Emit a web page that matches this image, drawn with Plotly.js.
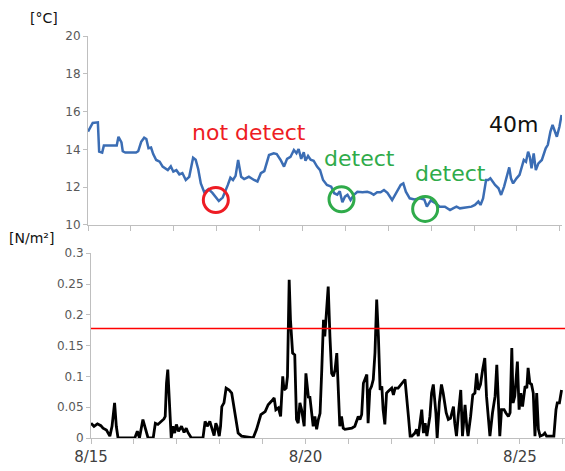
<!DOCTYPE html>
<html>
<head>
<meta charset="utf-8">
<script src="https://cdn.plot.ly/plotly-3.0.1.min.js"></script>
<style>html,body{margin:0;padding:0;background:#fff;}#chart{width:565px;height:471px;}</style>
</head>
<body>
<div id="chart"></div>
<script>
// Days since 8/15 00:00
const tempDays = [0,0.11,0.23,0.26,0.33,0.37,0.54,0.67,0.71,0.78,0.81,0.87,1.12,1.17,1.24,1.31,1.36,1.41,1.47,1.52,1.59,1.67,1.74,1.86,1.93,1.99,2.06,2.13,2.2,2.28,2.36,2.45,2.51,2.57,2.63,2.71,2.81,2.9,3.05,3.14,3.26,3.32,3.38,3.44,3.5,3.57,3.64,3.75,3.87,3.95,4.03,4.11,4.22,4.33,4.4,4.49,4.57,4.64,4.72,4.8,4.86,4.91,4.97,5.03,5.07,5.13,5.19,5.26,5.34,5.41,5.48,5.57,5.67,5.74,5.81,5.87,5.93,5.99,6.05,6.12,6.2,6.28,6.4,6.51,6.59,6.66,6.74,6.82,6.9,6.98,7.09,7.19,7.29,7.35,7.41,7.5,7.61,7.73,7.84,7.9,7.99,8.1,8.2,8.32,8.44,8.51,8.59,8.67,8.82,8.94,9.02,9.1,9.15,9.21,9.28,9.33,9.38,9.49,9.57,9.63,9.7,9.77,9.82,9.86,9.91,9.99,10.06,10.16,10.21,10.26,10.3,10.34,10.39,10.44,10.5,10.58,10.67,10.72,10.78,10.83,10.88,10.93,10.99,11.04];
const tempValues = [14.94,15.4,15.43,13.88,13.83,14.2,14.2,14.2,14.67,14.37,13.9,13.83,13.83,13.9,14.4,14.62,14.55,14.06,14.1,13.75,13.44,13.35,13.09,12.91,13.1,12.82,12.9,12.68,12.75,12.38,12.55,13.56,13.45,12.95,12.2,11.73,11.9,11.7,11.27,11.45,12.12,12.5,12.38,12.6,13.44,12.55,12.43,12.55,12.38,12.3,12.74,12.85,13.7,13.79,13.75,13.44,13.09,13.5,13.6,13.97,13.8,14.02,13.5,13.85,13.4,13.65,13.45,13.4,13.09,12.9,12.38,12.12,12.03,11.68,11.6,11.78,11.2,11.5,11.6,11.32,11.6,11.76,11.73,11.76,11.7,11.6,11.73,11.73,11.85,11.7,11.32,11.7,12.12,12.2,11.76,11.41,11.35,11.41,11.35,10.97,11.3,11.15,10.97,10.97,10.79,10.88,10.97,10.88,10.92,10.97,11.06,11.24,11.06,11.41,12.38,12.38,12.47,12.12,11.94,11.59,12.03,12.65,13.05,12.47,12.2,12.47,12.65,13.44,13.35,13.88,13.6,13.0,13.79,12.9,13.26,13.44,14.06,14.24,14.94,15.29,14.94,14.67,15.2,15.82];

const stressDays = [0,0.07,0.15,0.23,0.28,0.36,0.44,0.49,0.55,0.59,0.63,1.02,1.08,1.13,1.21,1.27,1.33,1.45,1.5,1.56,1.64,1.7,1.73,1.76,1.79,1.83,1.87,1.91,1.95,1.99,2.04,2.11,2.17,2.22,2.26,2.34,2.61,2.66,2.71,2.77,2.81,2.87,2.91,2.94,2.99,3.02,3.05,3.1,3.15,3.22,3.28,3.36,3.43,3.51,3.78,3.86,3.96,4.06,4.13,4.21,4.27,4.31,4.37,4.42,4.47,4.5,4.55,4.58,4.62,4.65,4.7,4.75,4.79,4.83,4.87,4.91,4.97,5.01,5.07,5.1,5.14,5.18,5.22,5.26,5.3,5.34,5.38,5.42,5.45,5.49,5.53,5.57,5.61,5.65,5.69,5.73,5.77,5.8,5.84,5.88,5.92,6.0,6.08,6.15,6.23,6.27,6.31,6.35,6.39,6.43,6.46,6.5,6.54,6.58,6.62,6.66,6.7,6.74,6.78,6.81,6.85,6.89,6.93,7.01,7.05,7.09,7.16,7.24,7.32,7.4,7.44,7.48,7.55,7.59,7.63,7.71,7.75,7.79,7.83,7.9,7.94,7.98,8.04,8.07,8.12,8.17,8.21,8.28,8.33,8.38,8.45,8.48,8.52,8.56,8.62,8.66,8.72,8.76,8.79,8.85,8.9,8.95,8.99,9.03,9.08,9.13,9.18,9.22,9.26,9.3,9.36,9.42,9.46,9.49,9.53,9.57,9.63,9.67,9.73,9.77,9.81,9.84,9.88,9.94,9.98,10.02,10.06,10.12,10.16,10.19,10.23,10.27,10.31,10.35,10.39,10.43,10.47,10.54,10.58,10.62,10.79,10.84,10.87,10.92,10.97];
const stressValues = [0.024,0.019,0.023,0.020,0.016,0.013,0.003,0.019,0.057,0.019,0,0,0.011,0,0.03,0.014,0,0,0.024,0.022,0.027,0.031,0.035,0.089,0.111,0.063,0,0.019,0.008,0.022,0.011,0.019,0.009,0.016,0.009,0,0,0.027,0.019,0.027,0.019,0.004,0.024,0.019,0.003,0.019,0.051,0.057,0.081,0.078,0.073,0.035,0.008,0.003,0,0.014,0.038,0.043,0.054,0.06,0.065,0.046,0.049,0.035,0.1,0.078,0.081,0.1,0.257,0.192,0.138,0.135,0.03,0.024,0.057,0.046,0.019,0.105,0.065,0.068,0.046,0.019,0.035,0.014,0.03,0.04,0.111,0.192,0.165,0.208,0.246,0.165,0.105,0.1,0.111,0.138,0.078,0.019,0.035,0.016,0.014,0.015,0.016,0.019,0.035,0.03,0.038,0.089,0.097,0.103,0.024,0.078,0.084,0.095,0.138,0.225,0.165,0.078,0.084,0.046,0.022,0.073,0.076,0.081,0.07,0.081,0.081,0.089,0.095,0.035,0.003,0.003,0.008,0.014,0.003,0.046,0.008,0.024,0.003,0.035,0.073,0.087,0.041,0,0.057,0.087,0.073,0.041,0.03,0.032,0.051,0.024,0.003,0.035,0.078,0.003,0.054,0.019,0.003,0.035,0.07,0.073,0.105,0.078,0.087,0.111,0.13,0.068,0.035,0.003,0.041,0.068,0.119,0.068,0.003,0.046,0.046,0.041,0.035,0.041,0.146,0.057,0.068,0.124,0.046,0.073,0.051,0.084,0.081,0.114,0.089,0.087,0.073,0.003,0.073,0.014,0.003,0.005,0.008,0.003,0.003,0.046,0.057,0.057,0.078];

const stressThreshold = 0.178;

const tickDays = [0,1,2,3,4,5,6,7,8,9,10,11];
const tickLabels = ['8/15','','','','','8/20','','','','','8/25',''];
const tempTicks = [10,12,14,16,18,20];
const stressTicks = [0,0.05,0.1,0.15,0.2,0.25,0.3];
const stressTickLabels = ['0','0.05','0.1','0.15','0.2','0.25','0.3'];

const notDetectDays = [2.98];
const notDetectTemps = [11.32];
const detectDays = [5.91, 7.86];
const detectTemps = [11.36, 10.85];

const labelTexts = ['not detect','detect','detect','40m'];
const labelDays = [3.75, 6.32, 8.46, 9.91];
const labelTemps = [14.87, 13.54, 12.7, 15.34];
const labelColors = ['#ee1c24','#2fab4a','#2fab4a','#111111'];

const FONT = 'DejaVu Sans, Verdana, sans-serif';
const AX = '#bfbfbf';

const traces = [
  {x: tempDays, y: tempValues, xaxis: 'x2', yaxis: 'y2', type: 'scatter', mode: 'lines',
   line: {color: '#3b6db4', width: 2.5}},
  {x: stressDays, y: stressValues, xaxis: 'x', yaxis: 'y', type: 'scatter', mode: 'lines',
   line: {color: '#000000', width: 2.8}},
  {x: notDetectDays, y: notDetectTemps, xaxis: 'x2', yaxis: 'y2', type: 'scatter', mode: 'markers',
   marker: {symbol: 'circle-open', size: 25, color: '#ee1c24', line: {width: 3, color: '#ee1c24'}}},
  {x: detectDays, y: detectTemps, xaxis: 'x2', yaxis: 'y2', type: 'scatter', mode: 'markers',
   marker: {symbol: 'circle-open', size: 25, color: '#2fab4a', line: {width: 3, color: '#2fab4a'}}}
];

const annotations = labelTexts.map((t, i) => ({
  text: t, x: labelDays[i], y: labelTemps[i], xref: 'x2', yref: 'y2', showarrow: false,
  xanchor: 'center', yanchor: 'middle', font: {family: FONT, size: 22, color: labelColors[i]}
}));
annotations.push({text: '[°C]', xref: 'paper', yref: 'paper', x: -0.125, y: 1.045, xanchor: 'left', yanchor: 'middle',
  showarrow: false, font: {family: FONT, size: 14, color: '#111'}});
annotations.push({text: '[N/m²]', xref: 'paper', yref: 'paper', x: -0.17, y: 0.4975, xanchor: 'left', yanchor: 'middle',
  showarrow: false, font: {family: FONT, size: 14, color: '#111'}});

const layout = {
  width: 565, height: 471,
  margin: {l: 88, r: 0, t: 36, b: 33},
  paper_bgcolor: '#ffffff', plot_bgcolor: '#ffffff',
  showlegend: false, hovermode: false,
  font: {family: FONT},
  xaxis: {domain: [3/477, 1], range: [0, 11.05], anchor: 'y',
    tickvals: tickDays, ticktext: tickLabels, ticks: 'outside', ticklen: 5, tickcolor: AX,
    showline: true, linecolor: AX, linewidth: 1, showgrid: false, zeroline: false,
    tickfont: {family: FONT, size: 15, color: '#404040'}},
  yaxis: {domain: [0, 0.4595], range: [0, 0.3], anchor: 'x',
    tickvals: stressTicks, ticktext: stressTickLabels, ticks: 'outside', ticklen: 4, tickcolor: AX,
    showline: true, linecolor: AX, linewidth: 1, showgrid: false, zeroline: false,
    tickfont: {family: FONT, size: 12, color: '#595959'}},
  xaxis2: {domain: [0, 474/477], range: [0, 11.05], anchor: 'y2',
    tickvals: tickDays, showticklabels: false, ticks: 'outside', ticklen: 5, tickcolor: AX,
    showline: true, linecolor: AX, linewidth: 1, showgrid: false, zeroline: false},
  yaxis2: {domain: [0.5299, 1], range: [10, 20], anchor: 'x2',
    tickvals: tempTicks, ticks: 'outside', ticklen: 4, tickcolor: AX,
    showline: true, linecolor: AX, linewidth: 1, showgrid: false, zeroline: false,
    tickfont: {family: FONT, size: 12, color: '#595959'}},
  shapes: [{type: 'line', xref: 'x domain', yref: 'y', x0: 0, x1: 1, y0: stressThreshold, y1: stressThreshold,
    line: {color: '#ff0000', width: 1.5}}],
  annotations: annotations
};

Plotly.newPlot('chart', traces, layout, {displayModeBar: false, staticPlot: true});
</script>
</body>
</html>
